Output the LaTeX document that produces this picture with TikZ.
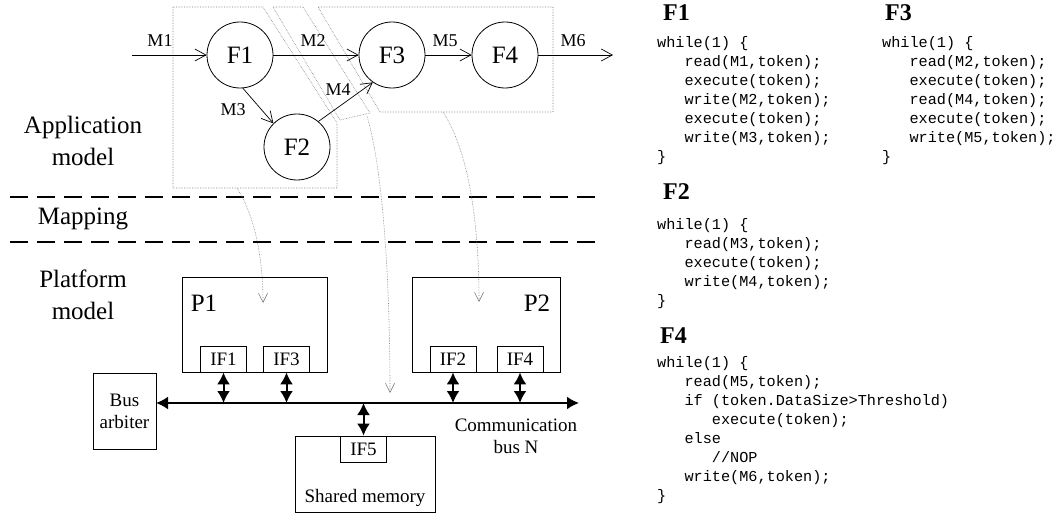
\documentclass[tikz,border=0pt]{standalone}
\usepackage{fontspec}
\setmainfont{Liberation Serif}
\setmonofont{Liberation Mono}
\usetikzlibrary{arrows.meta}
\newcommand{\codeind}{\phantom{xxx}}

\begin{document}
\begin{tikzpicture}[x=1pt, y=-1pt,
  func/.style={draw, circle, line width=0.8pt, minimum size=66pt, inner sep=0pt, font=\fontsize{25}{30}\selectfont},
  chan/.style={line width=0.7pt, -{Straight Barb[length=11pt,width=12pt]}},
  msg/.style={font=\fontsize{18}{20}\selectfont},
  region/.style={densely dotted, gray, line width=0.6pt},
  maparrow/.style={densely dotted, gray, line width=0.6pt, -{Straight Barb[length=9pt,width=9pt]}},
  pbox/.style={draw, line width=0.8pt, inner sep=0pt, font=\fontsize{19}{22}\selectfont},
  ifbox/.style={pbox, minimum width=46pt, minimum height=26pt},
  busarrow/.style={line width=2pt, {Latex[length=12pt,width=13pt]}-{Latex[length=12pt,width=13pt]}},
  layerline/.style={line width=2.2pt, dash pattern=on 18pt off 9pt},
  layer/.style={font=\fontsize{25}{32}\selectfont, align=center},
  code/.style={anchor=base west, inner sep=0pt, font=\fontsize{15.2}{19}\selectfont\ttfamily},
  heading/.style={anchor=base west, inner sep=0pt, font=\fontsize{24}{28}\selectfont\bfseries}]
\useasboundingbox (0,0) rectangle (1063,516);
\def\regionA{(173,7) -- (263,7) -- (337,123) -- (337,188) -- (173,188) -- cycle}
\def\regionB{(273,7) -- (303,7) -- (370,113) -- (340,120) -- cycle}
\def\regionC{(318,7) -- (553,7) -- (553,112) -- (380,112) -- cycle}

% layers
\draw[layerline] (10,197) -- (600,197);
\draw[layerline] (10,242) -- (600,242);
\node[layer] (applbl) at (83,141) {Application\\model};
\node[layer] (maplbl) at (83,219) {Mapping};
\node[layer] (platlbl) at (83,295) {Platform\\model};

% application model
\draw[region] \regionA;
\draw[region] \regionB;
\draw[region] \regionC;
\node[func] (F1) at (240,55) {F1};
\node[func] (F2) at (297,147) {F2};
\node[func] (F3) at (392,55) {F3};
\node[func] (F4) at (505,55) {F4};
\coordinate (inM1) at (132,55);
\coordinate (outM6) at (613,55);
\draw[chan] (inM1) -- (F1.west);
\draw[chan] (F1.east) -- (F3.west);
\draw[chan] (F1.-85) -- (F2.135);
\draw[chan] (F2.50) -- (F3.235);
\draw[chan] (F3.east) -- (F4.west);
\draw[chan] (F4.east) -- (outM6);
\node[msg] (M1) at (160,41) {M1};
\node[msg] (M2) at (313,41) {M2};
\node[msg] (M3) at (233,110) {M3};
\node[msg] (M4) at (338,90) {M4};
\node[msg] (M5) at (445,41) {M5};
\node[msg] (M6) at (573,41) {M6};

% platform model
\node[pbox, minimum width=145pt, minimum height=95pt] (P1) at (254.5,324.5) {};
\node[pbox, minimum width=148pt, minimum height=95pt] (P2) at (486,324.5) {};
\node[font=\fontsize{25}{30}\selectfont] (P1lbl) at (204,303) {P1};
\node[font=\fontsize{25}{30}\selectfont] (P2lbl) at (537,303) {P2};
\node[ifbox] (IF1) at (223.5,359) {IF1};
\node[ifbox] (IF3) at (286.5,359) {IF3};
\node[ifbox] (IF2) at (453,359) {IF2};
\node[ifbox] (IF4) at (520,359) {IF4};
\node[pbox, minimum width=63pt, minimum height=76pt, align=center] (arb) at (124.5,411) {Bus\\arbiter};
\node[pbox, minimum width=140pt, minimum height=76pt] (shm) at (365,474) {};
\node[ifbox] (IF5) at (363.5,449) {IF5};
\node[font=\fontsize{19}{22}\selectfont] (shmlbl) at (365,498) {Shared memory};
\node[font=\fontsize{19}{22}\selectfont, align=center] (buslbl) at (516,436) {Communication\\bus N};
\coordinate (busL) at (156,403);
\coordinate (busR) at (579,403);
\draw[busarrow] (busL) -- (busR);
\foreach \i in {IF1,IF3,IF2,IF4}
  \draw[busarrow] (\i.south) -- (\i.south |- busL);
\draw[busarrow] (IF5.north |- busL) -- (IF5.north);

% mapping
\coordinate (mapA) at (237,188);
\coordinate (onP1) at (263,303);
\coordinate (mapB) at (367,116);
\coordinate (onbus) at (390,393);
\coordinate (mapC) at (443,112);
\coordinate (onP2) at (479,302);
\draw[maparrow] (mapA) .. controls (254,215) and (263,255) .. (onP1);
\draw[maparrow] (mapB) .. controls (383,170) and (390,280) .. (onbus);
\draw[maparrow] (mapC) .. controls (468,150) and (479,220) .. (onP2);

% code of the functions
\node[heading] (hF1) at (663,21) {F1};
\node[code] (cF1) at (657,48) {\begin{tabular}[t]{@{}l@{}}
while(1) \{\\
\codeind read(M1,token);\\
\codeind execute(token);\\
\codeind write(M2,token);\\
\codeind execute(token);\\
\codeind write(M3,token);\\
\}\end{tabular}};
\node[heading] (hF3) at (885,21) {F3};
\node[code] (cF3) at (882,48) {\begin{tabular}[t]{@{}l@{}}
while(1) \{\\
\codeind read(M2,token);\\
\codeind execute(token);\\
\codeind read(M4,token);\\
\codeind execute(token);\\
\codeind write(M5,token);\\
\}\end{tabular}};
\node[heading] (hF2) at (663,200) {F2};
\node[code] (cF2) at (657,229.5) {\begin{tabular}[t]{@{}l@{}}
while(1) \{\\
\codeind read(M3,token);\\
\codeind execute(token);\\
\codeind write(M4,token);\\
\}\end{tabular}};
\node[heading] (hF4) at (660,343) {F4};
\node[code] (cF4) at (657,367.5) {\begin{tabular}[t]{@{}l@{}}
while(1) \{\\
\codeind read(M5,token);\\
\codeind if (token.DataSize>Threshold)\\
\codeind\codeind execute(token);\\
\codeind else\\
\codeind\codeind //NOP\\
\codeind write(M6,token);\\
\}\end{tabular}};
\end{tikzpicture}
\end{document}
